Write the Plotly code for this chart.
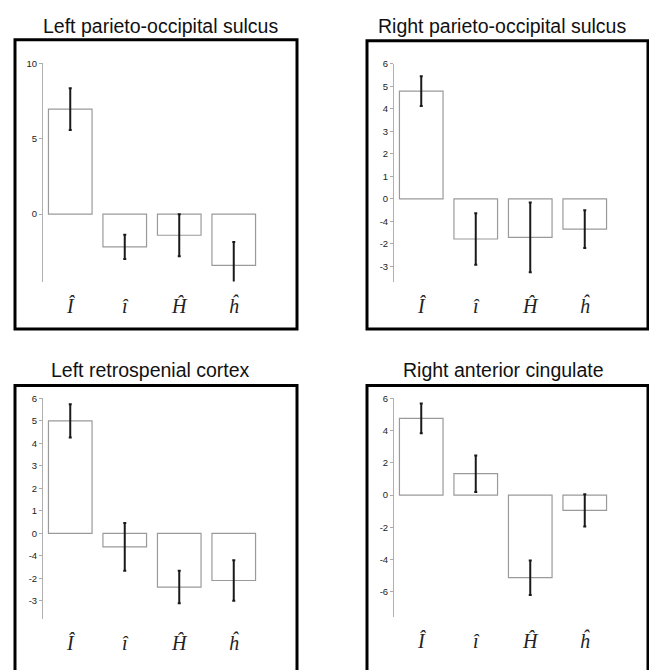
import plotly.graph_objects as go

W, H = 649, 670

# Condition labels shared by every panel
categories = ["<i>Î</i>", "<i>î</i>", "<i>Ĥ</i>", "<i>ĥ</i>"]

# Panel titles
titles = [
    "Left parieto-occipital sulcus",
    "Right parieto-occipital sulcus",
    "Left retrospenial cortex",
    "Right anterior cingulate",
]

# Mean values and error half-widths per panel
lpos_vals = [6.97, -2.17, -1.40, -3.40]
lpos_err = [1.38, 0.80, 1.40, 1.55]

rpos_vals = [4.79, -1.78, -1.71, -1.34]
rpos_err = [0.66, 1.14, 1.55, 0.84]

lrc_vals = [5.00, -0.60, -2.38, -2.09]
lrc_err = [0.74, 1.06, 0.72, 0.90]

rac_vals = [4.76, 1.33, -5.12, -0.94]
rac_err = [0.92, 1.13, 1.07, 1.00]

# Y tick values and their printed labels per panel
lpos_ticks = [10, 5, 0]
lpos_ticktext = ["10", "5", "0"]

rpos_ticks = [6, 5, 4, 3, 2, 1, 0, -1, -2, -3]
rpos_ticktext = ["6", "5", "4", "3", "2", "1", "0", "-4", "-2", "-3"]

lrc_ticks = [6, 5, 4, 3, 2, 1, 0, -1, -2, -3]
lrc_ticktext = ["6", "5", "4", "3", "2", "1", "0", "-4", "-2", "-3"]

rac_ticks = [6, 4, 2, 0, -2, -4, -6]
rac_ticktext = ["6", "4", "2", "0", "-2", "-4", "-6"]


def px_x(p):
    return p / W


def px_y(p):
    return 1 - p / H


panels = [
    dict(vals=lpos_vals, err=lpos_err, ticks=lpos_ticks, ticktext=lpos_ticktext,
         yrange=[-4.47, 10], xd=(43, 261), yd=(58, 278),
         frame=(15, 34, 297, 326), title_y=20, title_x=160),
    dict(vals=rpos_vals, err=rpos_err, ticks=rpos_ticks, ticktext=rpos_ticktext,
         yrange=[-3.68, 6], xd=(394, 612), yd=(58.3, 278.3),
         frame=(367, 35, 648, 326), title_y=20, title_x=502),
    dict(vals=lrc_vals, err=lrc_err, ticks=lrc_ticks, ticktext=lrc_ticktext,
         yrange=[-3.79, 6], xd=(43, 261), yd=(396, 618.3),
         frame=(15, 383, 297, 680), title_y=367, title_x=150),
    dict(vals=rac_vals, err=rac_err, ticks=rac_ticks, ticktext=rac_ticktext,
         yrange=[-7.57, 6], xd=(394, 612), yd=(396, 616.7),
         frame=(367, 383, 648, 680), title_y=367, title_x=503),
]

fig = go.Figure()
shapes = []
annotations = []

for i, p in enumerate(panels):
    n = "" if i == 0 else str(i + 1)
    xa, ya = "x" + n, "y" + n
    fig.add_trace(go.Bar(
        x=[0, 1, 2, 3], y=p["vals"],
        xaxis=xa, yaxis=ya,
        width=0.8,
        marker=dict(color="white", line=dict(color="#9a9a9a", width=1.2)),
        error_y=dict(type="data", array=p["err"], visible=True,
                     color="#1a1a1a", thickness=2, width=1.5),
        showlegend=False, hoverinfo="skip",
    ))
    fig.update_layout(**{
        "xaxis" + n: dict(
            domain=[px_x(p["xd"][0]), px_x(p["xd"][1])],
            anchor=ya, range=[-0.5, 3.5],
            tickmode="array", tickvals=[0, 1, 2, 3], ticktext=categories,
            ticks="outside", ticklen=6, tickcolor="rgba(0,0,0,0)",
            showline=False, showgrid=False, zeroline=False,
            tickfont=dict(family="Liberation Serif", size=20, color="#222"),
        ),
        "yaxis" + n: dict(
            domain=[px_y(p["yd"][1]), px_y(p["yd"][0])],
            anchor=xa, range=p["yrange"],
            tickmode="array", tickvals=p["ticks"], ticktext=p["ticktext"],
            ticks="outside", ticklen=3, tickcolor="#aaaaaa", tickwidth=1,
            showline=True, linecolor="#b0b0b0", linewidth=1,
            showgrid=False, zeroline=False,
            tickfont=dict(family="Liberation Sans", size=9.5, color="#222"),
        ),
    })
    x0, y0, x1, y1 = p["frame"]
    shapes.append(dict(type="rect", xref="paper", yref="paper",
                       x0=px_x(x0), x1=px_x(x1), y0=px_y(y1), y1=px_y(y0),
                       line=dict(color="black", width=3), fillcolor="rgba(0,0,0,0)"))
    annotations.append(dict(text=titles[i], xref="paper", yref="paper",
                            x=px_x(p["title_x"]), y=px_y(p["title_y"]),
                            xanchor="center", yanchor="middle", showarrow=False,
                            font=dict(family="Liberation Sans", size=19.5, color="#111")))

fig.update_layout(
    width=W, height=H,
    margin=dict(l=0, r=0, t=0, b=0),
    paper_bgcolor="white", plot_bgcolor="white",
    shapes=shapes, annotations=annotations,
    bargap=0.2,
)

fig.write_html("out.html")
